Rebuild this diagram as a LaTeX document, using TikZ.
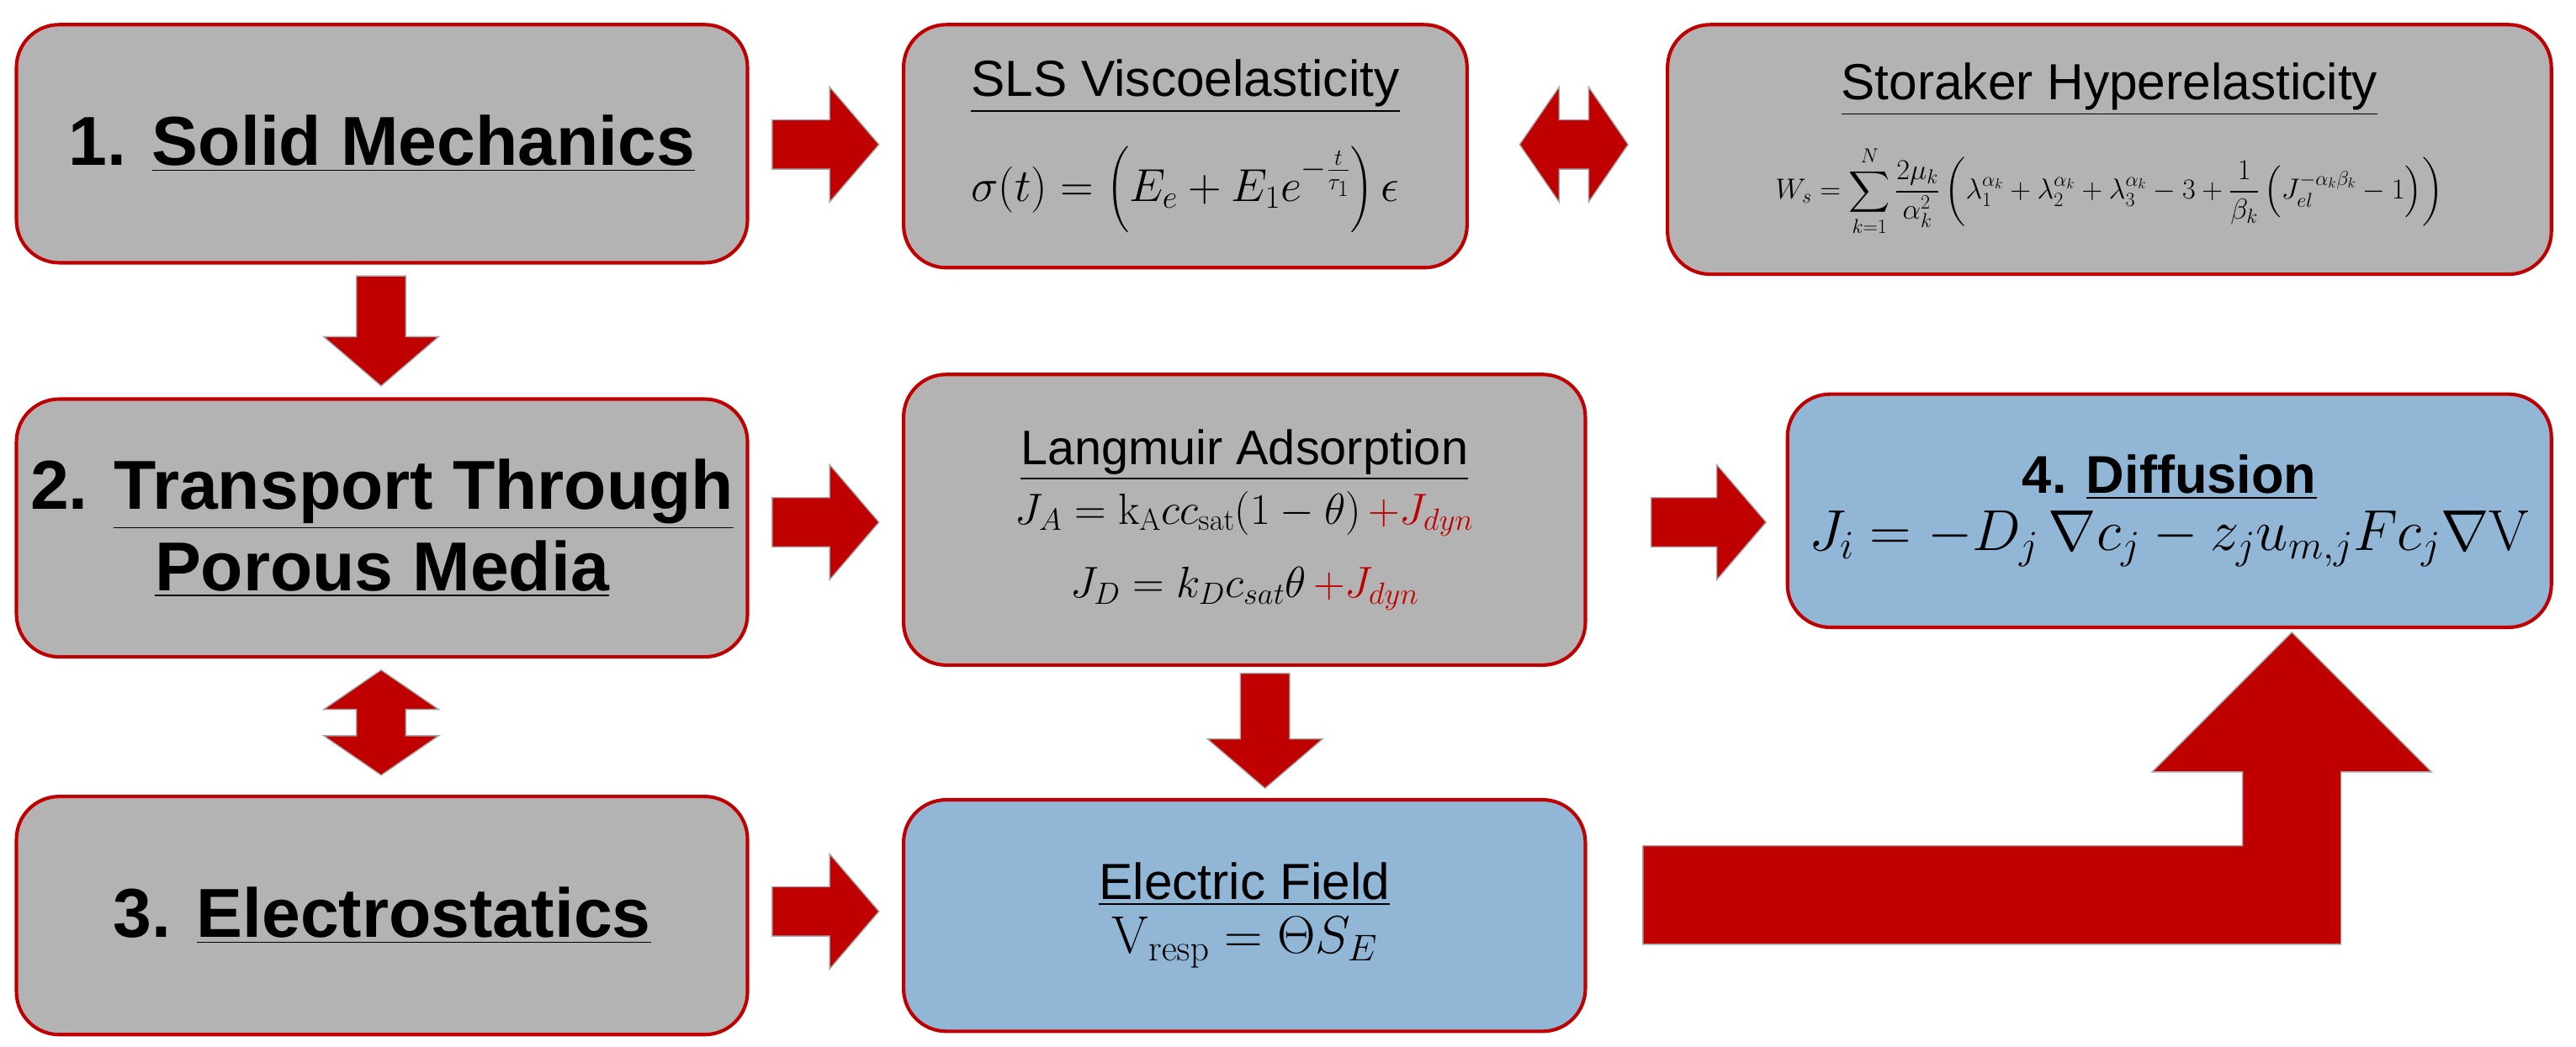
\RequirePackage{fix-cm}
\documentclass[tikz,border=0pt]{standalone}
\usepackage{amsmath}
\usepackage[no-math]{fontspec}
\setmainfont{Liberation Sans}
\definecolor{bred}{HTML}{C00000}
\definecolor{bgray}{HTML}{B3B3B3}
\definecolor{bblue}{HTML}{92B6D5}
\newcommand\blkarrow[4]{\begin{scope}[shift={(#1,#2)},rotate=#3]
\filldraw[barrow] (0,-15)--({#4-30},-15)--({#4-30},-35)--(#4,0)--({#4-30},35)--({#4-30},15)--(0,15)--cycle;\end{scope}}
\newcommand\dblarrow[4]{\begin{scope}[shift={(#1,#2)},rotate=#3]
\filldraw[barrow] (0,0)--(24,-35)--(24,-15)--({#4-24},-15)--({#4-24},-35)--(#4,0)--({#4-24},35)--({#4-24},15)--(24,15)--(24,35)--cycle;\end{scope}}
\newcommand\fs[1]{\fontsize{#1}{#1}\selectfont}
\newcommand\ul[1]{\underline{#1}}
\begin{document}
\begin{tikzpicture}[x=0.05cm,y=-0.05cm,
  box/.style={draw=bred,line width=3pt,rounded corners=1.3cm,fill=bgray,align=center,inner sep=0pt},
  bbox/.style={box,fill=bblue},
  barrow/.style={fill=bred,draw=gray!70,line width=1pt}]
\useasboundingbox (0,0) rectangle (1568,637.5);
\node[box,minimum width=22.25cm,minimum height=7.25cm] (sm) at (232.5,87.5) {\fs{60}\bfseries 1. \ul{Solid Mechanics}};
\node[box,minimum width=17.15cm,minimum height=7.4cm] (sls) at (721.5,89) {\fs{44}\ul{SLS Viscoelasticity}\\[1.0cm]\fs{40}$\sigma(t)=\left(E_e+E_1e^{-\frac{t}{\tau_1}}\right)\epsilon$};
\node[box,minimum width=26.9cm,minimum height=7.6cm] (st) at (1284,91) {\fs{44}\ul{Storaker Hyperelasticity}\\[0.9cm]\fs{25}$W_s=\displaystyle\sum_{k=1}^{N}\frac{2\mu_k}{\alpha_k^2}\left(\lambda_1^{\alpha_k}+\lambda_2^{\alpha_k}+\lambda_3^{\alpha_k}-3+\frac{1}{\beta_k}\left(J_{el}^{-\alpha_k\beta_k}-1\right)\right)$};
\node[box,minimum width=22.25cm,minimum height=7.85cm] (tp) at (232.5,321.5) {\fs{60}\bfseries 2. \ul{Transport Through}\\[0.3cm]\fs{60}\bfseries\ul{Porous Media}};
\node[box,minimum width=20.75cm,minimum height=8.85cm] (la) at (757.5,316.5) {\fs{42}\ul{Langmuir Adsorption}\\[0.3cm]\fs{38}$J_A=\mathrm{k_A}cc_{\mathrm{sat}}(1-\theta)\,{\color{bred}+J_{dyn}}$\\[0.9cm]\fs{38}$J_D=k_Dc_{sat}\theta\,{\color{bred}+J_{dyn}}$};
\node[bbox,minimum width=23.25cm,minimum height=7.1cm] (df) at (1320.5,311) {\fs{46}\bfseries 4. \ul{Diffusion}\\[0.3cm]\fs{50}$J_i=-D_j\,\nabla c_j-z_ju_{m,j}Fc_j\nabla\mathrm{V}$};
\node[box,minimum width=22.25cm,minimum height=7.25cm] (es) at (232.5,557.5) {\fs{60}\bfseries 3. \ul{Electrostatics}};
\node[bbox,minimum width=20.75cm,minimum height=7.05cm] (ef) at (757.5,557.5) {\fs{44}\ul{Electric Field}\\[0.3cm]\fs{46}$\mathrm{V_{resp}}=\Theta S_E$};
\blkarrow{470}{88}{0}{65}
\blkarrow{232}{168}{-90}{67}
\dblarrow{925}{88}{0}{66}
\blkarrow{470}{318}{0}{65}
\dblarrow{232}{408}{-90}{64}
\blkarrow{1005}{318}{0}{70}
\blkarrow{770}{410}{-90}{70}
\blkarrow{470}{555}{0}{65}
\filldraw[barrow] (1000,515)--(1365,515)--(1365,470)--(1310,470)--(1395,385)--(1480,470)--(1425,470)--(1425,575)--(1000,575)--cycle;
\end{tikzpicture}
\end{document}
